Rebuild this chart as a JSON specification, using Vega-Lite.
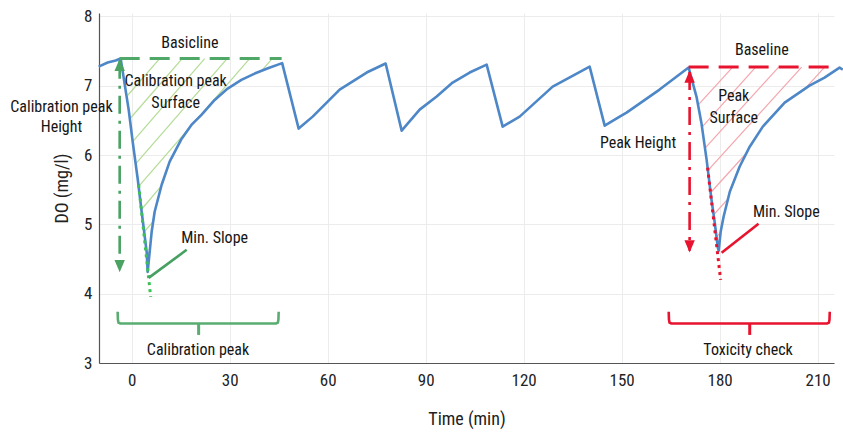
{
  "$schema": "https://vega.github.io/schema/vega-lite/v6.json",
  "width": 735,
  "height": 350,
  "autosize": {"type": "none"},
  "padding": {"left": 99, "top": 13, "right": 9, "bottom": 73},
  "datasets": {
    "do": [
      {"t": -10.1, "v": 7.277}, {"t": -7.35, "v": 7.335}, {"t": -4.9, "v": 7.364}, {"t": -3.37, "v": 7.393},
      {"t": -0.92, "v": 6.656}, {"t": 0.31, "v": 6.194}, {"t": 1.84, "v": 5.659}, {"t": 3.06, "v": 5.182},
      {"t": 4.59, "v": 4.604}, {"t": 4.9, "v": 4.315}, {"t": 5.51, "v": 4.604}, {"t": 6.12, "v": 4.893},
      {"t": 7.04, "v": 5.182}, {"t": 9.18, "v": 5.572}, {"t": 11.63, "v": 5.905}, {"t": 15.31, "v": 6.237},
      {"t": 18.28, "v": 6.435}, {"t": 21.43, "v": 6.584}, {"t": 25.41, "v": 6.796}, {"t": 29.39, "v": 6.96},
      {"t": 33.58, "v": 7.085}, {"t": 37.65, "v": 7.176}, {"t": 41.72, "v": 7.253}, {"t": 46.07, "v": 7.327},
      {"t": 51.12, "v": 6.382}, {"t": 55.41, "v": 6.555},
      {"t": 63.67, "v": 6.945}, {"t": 71.94, "v": 7.191}, {"t": 77.75, "v": 7.321}, {"t": 82.65, "v": 6.353},
      {"t": 88.16, "v": 6.656}, {"t": 93.37, "v": 6.844}, {"t": 98.26, "v": 7.046}, {"t": 103.47, "v": 7.191},
      {"t": 108.67, "v": 7.306}, {"t": 113.57, "v": 6.41},
      {"t": 118.77, "v": 6.555}, {"t": 128.88, "v": 6.988}, {"t": 140.2, "v": 7.277},
      {"t": 144.8, "v": 6.425}, {"t": 149.4, "v": 6.555}, {"t": 151.5, "v": 6.613}, {"t": 161.6, "v": 6.945},
      {"t": 170.5, "v": 7.263},
      {"t": 172.9, "v": 6.844}, {"t": 174.4, "v": 6.468}, {"t": 176.0, "v": 5.934}, {"t": 177.5, "v": 5.355},
      {"t": 178.5, "v": 5.023}, {"t": 179.4, "v": 4.676}, {"t": 179.7, "v": 4.618}, {"t": 180.3, "v": 4.893},
      {"t": 181.2, "v": 5.11}, {"t": 183.1, "v": 5.471}, {"t": 186.1, "v": 5.832}, {"t": 189.2, "v": 6.121},
      {"t": 193.2, "v": 6.41}, {"t": 199.9, "v": 6.757}, {"t": 207.5, "v": 7.003},
      {"t": 212.1, "v": 7.118}, {"t": 216.7, "v": 7.263}, {"t": 217.7, "v": 7.234}
    ],
    "hatch": [
      {"set": "cal", "t": 8.57, "v": 7.393, "t2": -1.19, "v2": 6.863},
      {"set": "cal", "t": 15.46, "v": 7.393, "t2": -0.34, "v2": 6.535},
      {"set": "cal", "t": 22.35, "v": 7.393, "t2": 0.31, "v2": 6.194},
      {"set": "cal", "t": 29.23, "v": 7.393, "t2": 1.22, "v2": 5.873},
      {"set": "cal", "t": 36.12, "v": 7.393, "t2": 2.14, "v2": 5.548},
      {"set": "cal", "t": 43.01, "v": 7.393, "t2": 39.8, "v2": 7.22},
      {"set": "cal", "t": 9.18, "v": 5.558, "t2": 2.91, "v2": 5.211},
      {"set": "cal", "t": 6.86, "v": 5.056, "t2": 3.83, "v2": 4.893},
      {"set": "cal", "t": 5.51, "v": 4.611, "t2": 4.65, "v2": 4.564},
      {"set": "tox", "t": 183.98, "v": 7.27, "t2": 173.45, "v2": 6.724},
      {"set": "tox", "t": 191.02, "v": 7.27, "t2": 174.67, "v2": 6.408},
      {"set": "tox", "t": 198.06, "v": 7.27, "t2": 175.53, "v2": 6.1},
      {"set": "tox", "t": 205.1, "v": 7.27, "t2": 176.42, "v2": 5.78},
      {"set": "tox", "t": 212.14, "v": 7.27, "t2": 205.71, "v2": 6.936},
      {"set": "tox", "t": 188.17, "v": 6.026, "t2": 177.27, "v2": 5.46},
      {"set": "tox", "t": 182.54, "v": 5.367, "t2": 178.16, "v2": 5.139},
      {"set": "tox", "t": 180.31, "v": 4.886, "t2": 179.02, "v2": 4.819}
    ],
    "baselines": [
      {"set": "cal", "t": -3.67, "t2": 45.9, "v": 7.393},
      {"set": "tox", "t": 170.5, "t2": 214.3, "v": 7.27}
    ],
    "heights": [
      {"set": "cal", "t": -3.67, "v": 7.36, "v2": 4.34},
      {"set": "tox", "t": 170.8, "v": 7.2, "v2": 4.62}
    ],
    "heads": [
      {"set": "cal", "dir": "up", "t": -3.67, "v": 7.39},
      {"set": "cal", "dir": "down", "t": -3.67, "v": 4.31},
      {"set": "tox", "dir": "up", "t": 170.8, "v": 7.22},
      {"set": "tox", "dir": "down", "t": 170.8, "v": 4.594}
    ],
    "slopes": [
      {"set": "cal", "t": 2.14, "v": 5.572, "t2": 5.82, "v2": 3.954},
      {"set": "tox", "t": 176.3, "v": 5.818, "t2": 180.3, "v2": 4.199}
    ],
    "connectors": [
      {"set": "cal", "t": 5.2, "v": 4.228, "t2": 16.84, "v2": 4.633},
      {"set": "tox", "t": 180.6, "v": 4.59, "t2": 191.9, "v2": 5.009}
    ],
    "brackets": [
      {"set": "cal", "i": 0, "t": -4.29, "v": 3.74}, {"set": "cal", "i": 1, "t": -4.21, "v": 3.625},
      {"set": "cal", "i": 2, "t": -4.04, "v": 3.584}, {"set": "cal", "i": 3, "t": -3.49, "v": 3.571},
      {"set": "cal", "i": 4, "t": 44.2, "v": 3.571}, {"set": "cal", "i": 5, "t": 44.75, "v": 3.584},
      {"set": "cal", "i": 6, "t": 44.92, "v": 3.625}, {"set": "cal", "i": 7, "t": 45.0, "v": 3.74},
      {"set": "tox", "i": 0, "t": 164.4, "v": 3.74}, {"set": "tox", "i": 1, "t": 164.48, "v": 3.625},
      {"set": "tox", "i": 2, "t": 164.65, "v": 3.584}, {"set": "tox", "i": 3, "t": 165.2, "v": 3.571},
      {"set": "tox", "i": 4, "t": 212.9, "v": 3.571}, {"set": "tox", "i": 5, "t": 213.45, "v": 3.584},
      {"set": "tox", "i": 6, "t": 213.62, "v": 3.625}, {"set": "tox", "i": 7, "t": 213.7, "v": 3.74}
    ],
    "stubs": [
      {"set": "cal", "t": 20.5, "v": 3.571, "v2": 3.405},
      {"set": "tox", "t": 189.2, "v": 3.571, "v2": 3.405}
    ],
    "labels": [
      {"label": "Basicline", "t": 17.8, "v": 7.624},
      {"label": "Calibration peak", "t": -21.5, "v": 6.7},
      {"label": "Height", "t": -21.5, "v": 6.4},
      {"label": "Calibration peak", "t": 13.47, "v": 7.065},
      {"label": "Surface", "t": 13.47, "v": 6.753},
      {"label": "Min. Slope", "t": 25.4, "v": 4.8},
      {"label": "Calibration peak", "t": 20.3, "v": 3.188},
      {"label": "Baseline", "t": 192.9, "v": 7.523},
      {"label": "Peak Height", "t": 155.0, "v": 6.175},
      {"label": "Peak", "t": 184.3, "v": 6.848},
      {"label": "Surface", "t": 184.3, "v": 6.536},
      {"label": "Min. Slope", "t": 200.4, "v": 5.172},
      {"label": "Toxicity check", "t": 188.7, "v": 3.188}
    ]
  },
  "encoding": {
    "x": {
      "field": "t", "type": "quantitative",
      "scale": {"domain": [-10, 215], "nice": false, "zero": false},
      "axis": {"values": [0, 30, 60, 90, 120, 150, 180, 210], "title": "Time (min)", "labelPadding": 9, "titlePadding": 22}
    },
    "y": {
      "field": "v", "type": "quantitative",
      "scale": {"domain": [3, 8.05], "nice": false, "zero": false},
      "axis": {"values": [3, 4, 5, 6, 7, 8], "title": "DO (mg/l)", "labelPadding": 7, "titlePadding": 12}
    }
  },
  "layer": [
    {
      "data": {"name": "hatch"},
      "mark": {"type": "rule", "strokeWidth": 1.2},
      "encoding": {
        "x2": {"field": "t2"}, "y2": {"field": "v2"},
        "color": {"condition": {"test": "datum.set === 'cal'", "value": "#b3dc95"}, "value": "#f5a5ad"}
      }
    },
    {
      "data": {"name": "do"},
      "mark": {"type": "line", "color": "#4d87c7", "strokeWidth": 2.6, "strokeJoin": "round"}
    },
    {
      "data": {"name": "baselines"},
      "mark": {"type": "rule", "strokeWidth": 3, "strokeDash": [20, 10]},
      "encoding": {
        "x2": {"field": "t2"},
        "color": {"condition": {"test": "datum.set === 'cal'", "value": "#4fa867"}, "value": "#e8132e"}
      }
    },
    {
      "data": {"name": "heights"},
      "mark": {"type": "rule", "strokeWidth": 2.6, "strokeDash": [18, 7, 3, 7]},
      "encoding": {
        "y2": {"field": "v2"},
        "color": {"condition": {"test": "datum.set === 'cal'", "value": "#4aa263"}, "value": "#e8132e"}
      }
    },
    {
      "data": {"name": "heads"},
      "mark": {"type": "point", "filled": true, "opacity": 1, "size": 150, "strokeWidth": 0},
      "encoding": {
        "shape": {"field": "dir", "type": "nominal", "scale": {"domain": ["up", "down"], "range": ["M0,0L-0.85,2L0.85,2Z", "M0,0L-0.85,-2L0.85,-2Z"]}, "legend": null},
        "color": {"condition": {"test": "datum.set === 'cal'", "value": "#4aa263"}, "value": "#e8132e"}
      }
    },
    {
      "data": {"name": "slopes"},
      "mark": {"type": "rule", "strokeWidth": 3, "strokeDash": [3, 4]},
      "encoding": {
        "x2": {"field": "t2"}, "y2": {"field": "v2"},
        "color": {"condition": {"test": "datum.set === 'cal'", "value": "#3cc156"}, "value": "#e8132e"}
      }
    },
    {
      "data": {"name": "connectors"},
      "mark": {"type": "rule", "strokeWidth": 2.6},
      "encoding": {
        "x2": {"field": "t2"}, "y2": {"field": "v2"},
        "color": {"condition": {"test": "datum.set === 'cal'", "value": "#45a062"}, "value": "#e8132e"}
      }
    },
    {
      "data": {"name": "brackets"},
      "mark": {"type": "line", "strokeWidth": 2.6},
      "encoding": {
        "detail": {"field": "set"},
        "order": {"field": "i", "type": "quantitative"},
        "color": {"condition": {"test": "datum.set === 'cal'", "value": "#5aad70"}, "value": "#e8132e"}
      }
    },
    {
      "data": {"name": "stubs"},
      "mark": {"type": "rule", "strokeWidth": 3},
      "encoding": {
        "y2": {"field": "v2"},
        "color": {"condition": {"test": "datum.set === 'cal'", "value": "#5aad70"}, "value": "#e8132e"}
      }
    },
    {
      "data": {"name": "labels"},
      "mark": {"type": "text", "fontSize": 16, "align": "center", "baseline": "middle", "color": "#151515"},
      "encoding": {"text": {"field": "label"}}
    }
  ],
  "config": {
    "view": {"stroke": null},
    "font": "Liberation Sans Narrow, Roboto Condensed, DejaVu Sans Condensed, Roboto, sans-serif",
    "axis": {
      "grid": true, "gridColor": "#ececec", "gridWidth": 1,
      "domainColor": "#555555", "domainWidth": 1.2, "ticks": false,
      "labelFont": "Liberation Sans Narrow, Roboto Condensed, DejaVu Sans Condensed, Roboto, sans-serif",
      "titleFont": "Liberation Sans Narrow, Roboto Condensed, DejaVu Sans Condensed, Roboto, sans-serif",
      "labelFontSize": 17, "titleFontSize": 18, "titleFontWeight": "normal",
      "labelColor": "#222222", "titleColor": "#222222"
    },
    "text": {"font": "Liberation Sans Narrow, Roboto Condensed, DejaVu Sans Condensed, Roboto, sans-serif"}
  }
}
